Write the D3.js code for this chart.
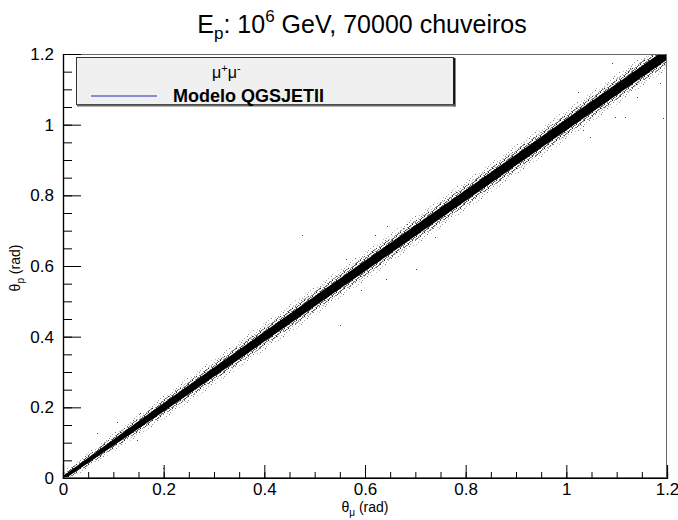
<!DOCTYPE html>
<html>
<head>
<meta charset="utf-8">
<script src="https://cdn.jsdelivr.net/npm/d3@7"></script>
<style>
  html, body { margin: 0; padding: 0; background: #fff; }
  svg { display: block; font-family: "Liberation Sans", Arial, sans-serif; }
</style>
</head>
<body>
<svg id="chart" width="678" height="520"></svg>
<script>
// θμ positions where the correlation band is sampled (rad)
const bandMu = [0, 0.2, 0.4, 0.6, 0.8, 1.0, 1.2];
// centre of the band in θp (rad)
const bandP = [0, 0.2, 0.4, 0.6, 0.8, 1.0, 1.2];
// half-width of the saturated core, in θp (rad)
const coreHalf = [0.006, 0.012, 0.014, 0.015, 0.015, 0.016, 0.016];
// half-width of the dense grey halo (rad)
const haloHalf = [0.012, 0.022, 0.026, 0.028, 0.028, 0.029, 0.029];
// half-width of the sparse outer halo (rad)
const outerHalf = [0.018, 0.034, 0.040, 0.042, 0.042, 0.043, 0.043];

// isolated showers away from the band
const strayMu = [0.107, 0.068, 0.147, 0.199, 0.153, 0.475, 0.562, 0.592, 0.550, 0.701,
                 0.642, 0.739, 0.683, 0.620, 0.644, 1.091, 1.127, 1.146, 1.023, 1.053,
                 1.140, 1.097, 1.117, 1.033, 1.047, 1.186, 1.192];
const strayP  = [0.158, 0.127, 0.108, 0.028, 0.184, 0.688, 0.620, 0.532, 0.433, 0.592,
                 0.563, 0.682, 0.719, 0.688, 0.713, 1.175, 1.160, 1.135, 1.093, 1.076,
                 1.078, 1.022, 1.022, 0.985, 0.965, 1.118, 1.019];

const xTicks = [0, 0.2, 0.4, 0.6, 0.8, 1, 1.2];
const yTicks = [0, 0.2, 0.4, 0.6, 0.8, 1, 1.2];
const minorStep = 0.05;

const legendHeader = "μ";
const legendLabel = "Modelo QGSJETII";

const svg = d3.select("#chart");
const L = 63, R = 667, T = 54, B = 478;

const x = d3.scaleLinear().domain([0, 1.2]).range([L, R]);
const y = d3.scaleLinear().domain([0, 1.2]).range([B, T]);

const defs = svg.append("defs");
defs.append("clipPath").attr("id", "frameClip")
  .append("rect").attr("x", L).attr("y", T).attr("width", R - L).attr("height", B - T);

// grain patterns for the halo around the core
const dense = defs.append("pattern").attr("id", "dense")
  .attr("width", 4).attr("height", 4).attr("patternUnits", "userSpaceOnUse");
[[0,0,"#222"],[2,1,"#666"],[1,2,"#444"],[3,3,"#888"],[3,1,"#aaa"],[0,3,"#555"]].forEach(([px, py, c]) =>
  dense.append("rect").attr("x", px).attr("y", py).attr("width", 1).attr("height", 1).attr("fill", c));
const sparse = defs.append("pattern").attr("id", "sparse")
  .attr("width", 6).attr("height", 6).attr("patternUnits", "userSpaceOnUse");
[[1,0,"#777"],[4,2,"#aaa"],[2,4,"#999"],[5,5,"#bbb"]].forEach(([px, py, c]) =>
  sparse.append("rect").attr("x", px).attr("y", py).attr("width", 1).attr("height", 1).attr("fill", c));

function bandPath(half) {
  const upper = bandMu.map((m, i) => [x(m), y(bandP[i] + half[i])]);
  const lower = bandMu.map((m, i) => [x(m), y(bandP[i] - half[i])]).reverse();
  return d3.line()(upper.concat(lower)) + "Z";
}

const plot = svg.append("g").attr("clip-path", "url(#frameClip)");
plot.append("path").attr("d", bandPath(outerHalf)).attr("fill", "url(#sparse)");
plot.append("path").attr("d", bandPath(haloHalf)).attr("fill", "url(#dense)");
plot.append("path").attr("d", bandPath(coreHalf)).attr("fill", "#000");

plot.selectAll("rect.stray").data(strayMu).join("rect")
  .attr("class", "stray")
  .attr("x", (d) => Math.round(x(d)))
  .attr("y", (d, i) => Math.round(y(strayP[i])))
  .attr("width", 1).attr("height", 1)
  .attr("fill", "#444");

// frame
svg.append("rect").attr("x", L + 0.5).attr("y", T + 0.5)
  .attr("width", R - L - 1).attr("height", B - T - 1)
  .attr("fill", "none").attr("stroke", "#666").attr("stroke-width", 1);

// axes with inward ticks
const minorVals = d3.range(0, 1.2 + 1e-9, minorStep).map((v) => +v.toFixed(2));
const fmt = d3.format("~g");

const xMinor = svg.append("g").attr("transform", `translate(0,${B})`)
  .call(d3.axisBottom(x).tickValues(minorVals).tickSize(-6).tickFormat(""));
const xMajor = svg.append("g").attr("transform", `translate(0,${B})`)
  .call(d3.axisBottom(x).tickValues(xTicks).tickSize(-13).tickPadding(5).tickFormat(fmt));
const yMinor = svg.append("g").attr("transform", `translate(${L},0)`)
  .call(d3.axisLeft(y).tickValues(minorVals).tickSize(-9).tickFormat(""));
const yMajor = svg.append("g").attr("transform", `translate(${L},0)`)
  .call(d3.axisLeft(y).tickValues(yTicks).tickSize(-18).tickPadding(9).tickFormat(fmt));

[xMinor, xMajor, yMinor, yMajor].forEach((g) => {
  g.select(".domain").attr("stroke", "#000").attr("stroke-width", 1.2);
  g.selectAll(".tick line").attr("stroke", "#000").attr("stroke-width", 1);
  g.selectAll("text").attr("font-size", 17).attr("fill", "#000")
    .attr("font-family", "'Liberation Sans', Arial, sans-serif");
});

// axis titles
const xt = svg.append("text").attr("x", (L + R) / 2).attr("y", 512)
  .attr("text-anchor", "middle").attr("font-size", 14);
xt.append("tspan").text("θ");
xt.append("tspan").attr("font-size", 10).attr("dy", 4).text("μ");
xt.append("tspan").attr("dy", -4).text(" (rad)");

const yt = svg.append("text").attr("transform", "translate(20,268) rotate(-90)")
  .attr("text-anchor", "middle").attr("font-size", 14);
yt.append("tspan").text("θ");
yt.append("tspan").attr("font-size", 10).attr("dy", 4).text("p");
yt.append("tspan").attr("dy", -4).text(" (rad)");

// title
const title = svg.append("text").attr("x", 362).attr("y", 33)
  .attr("text-anchor", "middle").attr("font-size", 25);
title.append("tspan").text("E");
title.append("tspan").attr("font-size", 17).attr("dy", 6).text("p");
title.append("tspan").attr("dy", -6).text(": 10");
title.append("tspan").attr("font-size", 17).attr("dy", -11).text("6");
title.append("tspan").attr("dy", 11).text(" GeV, 70000 chuveiros");

// legend
const lg = svg.append("g");
lg.append("rect").attr("x", 76.5).attr("y", 57.5).attr("width", 377).attr("height", 47)
  .attr("fill", "#f0f0f0").attr("stroke", "#333").attr("stroke-width", 1);
lg.append("line").attr("x1", 454.5).attr("x2", 454.5).attr("y1", 58).attr("y2", 106.5)
  .attr("stroke", "#111").attr("stroke-width", 2);
lg.append("line").attr("x1", 77).attr("x2", 455.5).attr("y1", 105.5).attr("y2", 105.5)
  .attr("stroke", "#666").attr("stroke-width", 2);

const hd = lg.append("text").attr("x", 212).attr("y", 78).attr("font-size", 16);
hd.append("tspan").text(legendHeader);
hd.append("tspan").attr("font-size", 11).attr("dy", -6).text("+");
hd.append("tspan").attr("dy", 6).text(legendHeader);
hd.append("tspan").attr("font-size", 11).attr("dy", -6).text("-");

lg.append("line").attr("x1", 91).attr("x2", 157).attr("y1", 96).attr("y2", 96)
  .attr("stroke", "#6b6bd0").attr("stroke-width", 1.5);
lg.append("text").attr("x", 173).attr("y", 102).attr("font-size", 18)
  .attr("font-weight", "bold").text(legendLabel);
</script>
</body>
</html>
